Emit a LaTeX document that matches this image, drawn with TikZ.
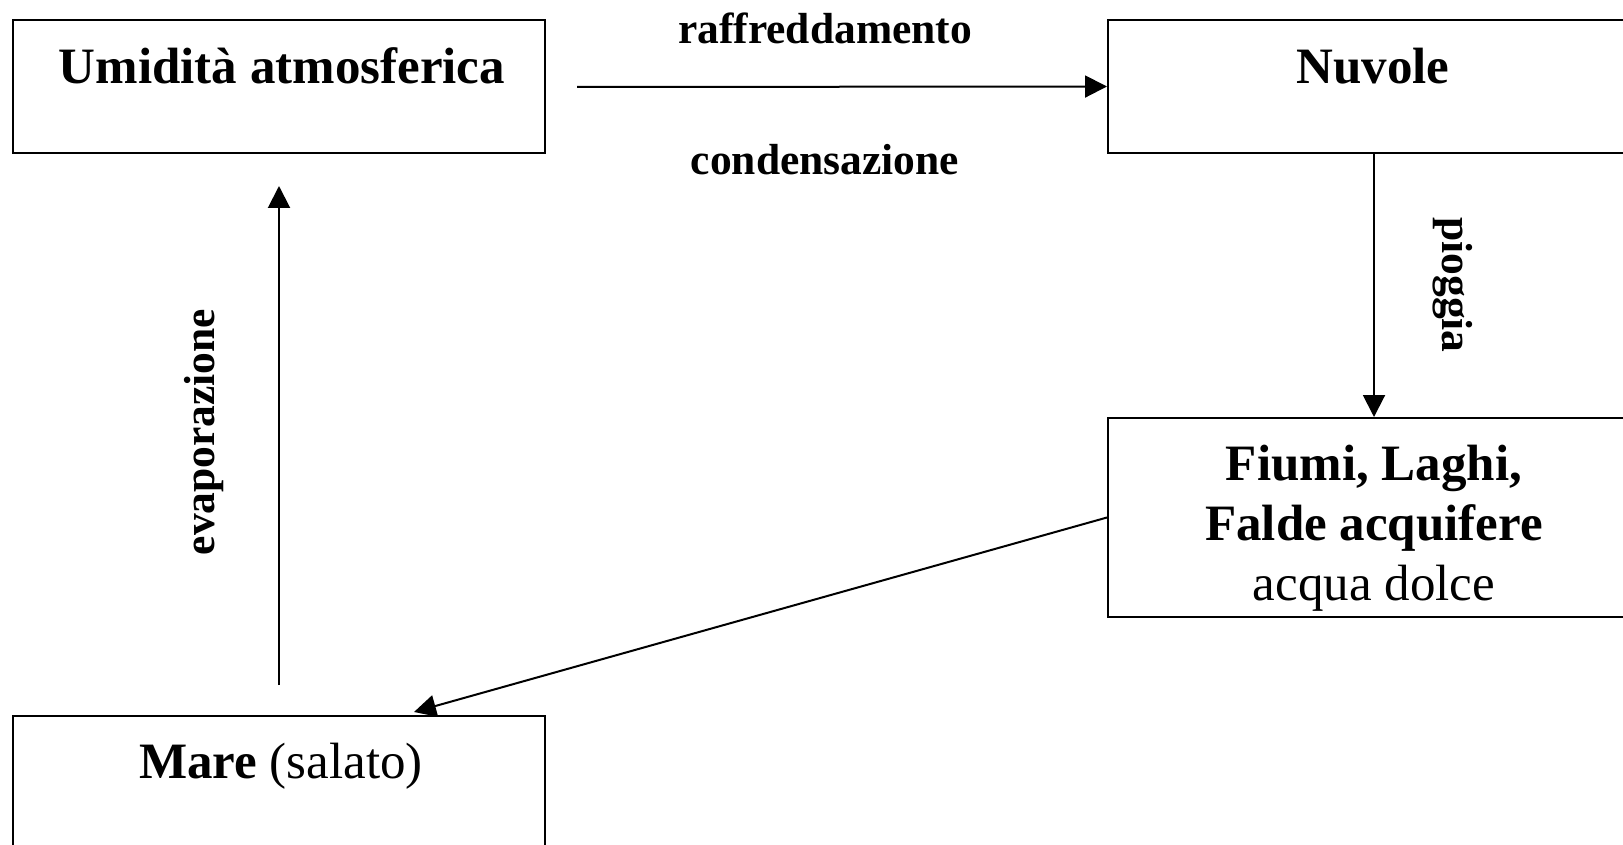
\documentclass[tikz,border=0pt]{standalone}
\usepackage{fontspec}
\setmainfont{Liberation Serif}
\usetikzlibrary{arrows.meta}

\begin{document}
\begin{tikzpicture}[
    x=1pt, y=-1pt,
    box/.style={draw, line width=2pt, minimum width=532pt, inner sep=0pt},
    title/.style={font=\fontsize{51}{60}\selectfont, align=center, inner sep=0pt},
    lbl/.style={font=\fontsize{43.5}{50}\selectfont\bfseries, inner sep=0pt},
    flow/.style={line width=2pt, -{Triangle[length=22pt, width=22pt]}}
]
\useasboundingbox (0,0) rectangle (1623,845);

% boxes
\node[box, minimum height=133pt] (umid) at (279,86.5) {};
\node[box, minimum height=133pt] (nuv) at (1374,86.5) {};
\node[box, minimum height=199pt] (fiumi) at (1374,517.5) {};
\node[box, minimum height=133pt] (mare) at (279,782.5) {};

% texts in the boxes
\node[title] (umidtxt) at (282,66) {\textbf{Umidità atmosferica}};
\node[title] (nuvtxt) at (1373,66) {\textbf{Nuvole}};
\node[title] (fiumitxt) at (1374,528) {\textbf{Fiumi, Laghi,}\\ \textbf{Falde acquifere}\\ acqua dolce};
\node[title] (maretxt) at (281,766) {\textbf{Mare} (salato)};

% free ends of the arrows
\coordinate (raffstart) at (577,87);
\coordinate (evapstart) at (279,685);
\coordinate (evapend) at (279,186);
\coordinate (mareend) at (414,712);

% arrows
\draw[flow] (raffstart) -- (nuv.west);
\draw[flow] (nuv.south) -- (fiumi.north);
\draw[flow] (fiumi.west) -- (mareend);
\draw[flow] (evapstart) -- (evapend);

% labels
\node[lbl] (raff) at (825,28) {raffreddamento};
\node[lbl] (cond) at (825,160) {condensazione};
\node[lbl, rotate=-90] (piog) at (1453,285) {pioggia};
\node[lbl, rotate=90] (evap) at (204,432) {evaporazione};

\end{tikzpicture}
\end{document}
